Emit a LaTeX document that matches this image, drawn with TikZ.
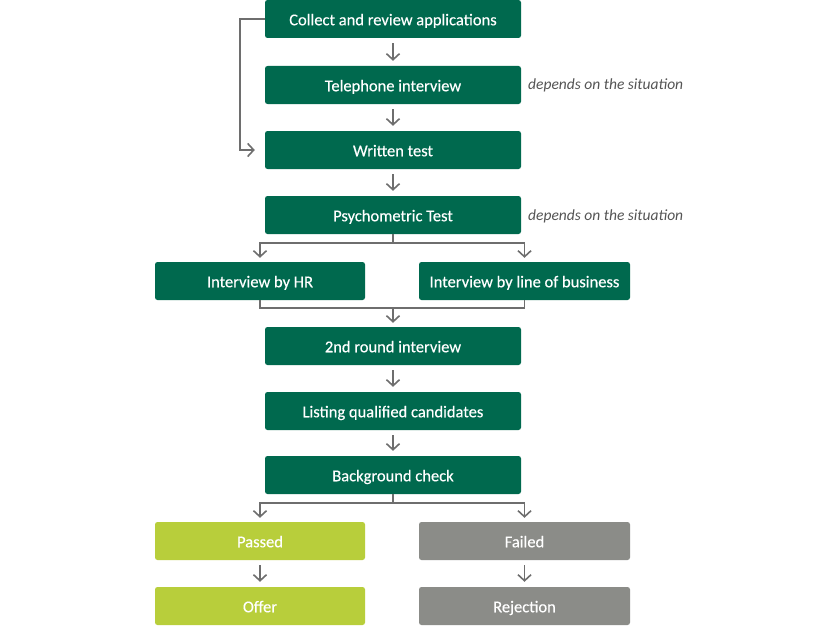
\documentclass[tikz,border=0pt]{standalone}
\usepackage{fontspec}
\setmainfont{Carlito}
\newfontfamily\boxfont[FakeBold=0.3]{Carlito}
\usetikzlibrary{arrows.meta}
\definecolor{dgreen}{HTML}{00694E}
\definecolor{lime}{HTML}{B8CE3B}
\definecolor{fgray}{HTML}{8B8C88}
\definecolor{agray}{HTML}{6E6E6E}
\definecolor{tgray}{HTML}{555555}
\begin{document}
\begin{tikzpicture}[x=1pt,y=-1pt,
  box/.style={fill=dgreen,text=white,rounded corners=2.5pt,minimum height=38pt,inner sep=0pt,text height=13.5pt,text depth=1pt,font=\boxfont\fontsize{16.5}{18}\selectfont},
  mainbox/.style={box,minimum width=256pt},
  sidebox/.style={box,minimum width=211pt},
  passbox/.style={sidebox,fill=lime},
  failbox/.style={sidebox,fill=fgray},
  arr/.style={draw=agray,line width=1.6pt,-{Straight Barb[length=6pt,width=13pt,line width=1.6pt]}},
  ln/.style={draw=agray,line width=1.6pt},
  note/.style={anchor=west,text=tgray,inner sep=0pt,font=\fontsize{15.5}{17}\selectfont\itshape}]
\useasboundingbox[fill=white] (0,0) rectangle (840,626);
\node[mainbox] (collect) at (393,19) {Collect and review applications};
\node[mainbox] (tel) at (393,85) {Telephone interview};
\node[mainbox] (written) at (393,150) {Written test};
\node[mainbox] (psych) at (393,215) {Psychometric Test};
\node[sidebox,minimum width=210pt] (hr) at (260,281) {Interview by HR};
\node[sidebox] (lob) at (524.5,281) {Interview by line of business};
\node[mainbox] (second) at (393,346) {2nd round interview};
\node[mainbox] (listing) at (393,411) {Listing qualified candidates};
\node[mainbox] (bg) at (393,475) {Background check};
\node[passbox,minimum width=210pt] (passed) at (260,541) {Passed};
\node[failbox] (failed) at (524.5,541) {Failed};
\node[passbox,minimum width=210pt] (offer) at (260,606) {Offer};
\node[failbox] (rej) at (524.5,606) {Rejection};
\node[note] (n1) at (528,85.5) {depends on the situation};
\node[note] (n2) at (528,216.5) {depends on the situation};
\coordinate (s1) at (393,243);
\coordinate (m1) at (393,308);
\coordinate (s2) at (393,503);
% main chain
\foreach \a/\b in {collect/tel,tel/written,written/psych,second/listing,listing/bg,passed/offer,failed/rej}
  \draw[arr] ([yshift=-5pt]\a.south) -- ([yshift=5pt]\b.north);
% loop
\draw[arr] (collect.west) -- ++(-25,0) |- ([xshift=-10pt]written.west);
% split after psych
\draw[ln] (psych.south) -- (s1);
\draw[arr] (s1) -| ([yshift=4pt]hr.north);
\draw[arr] (s1) -| ([yshift=4pt]lob.north);
% merge
\draw[ln] (hr.south) |- (m1);
\draw[ln] (lob.south) |- (m1);
\draw[arr] (m1) -- ([yshift=4pt]second.north);
% split after background
\draw[ln] (bg.south) -- (s2);
\draw[arr] (s2) -| ([yshift=4pt]passed.north);
\draw[arr] (s2) -| ([yshift=4pt]failed.north);
\end{tikzpicture}
\end{document}
